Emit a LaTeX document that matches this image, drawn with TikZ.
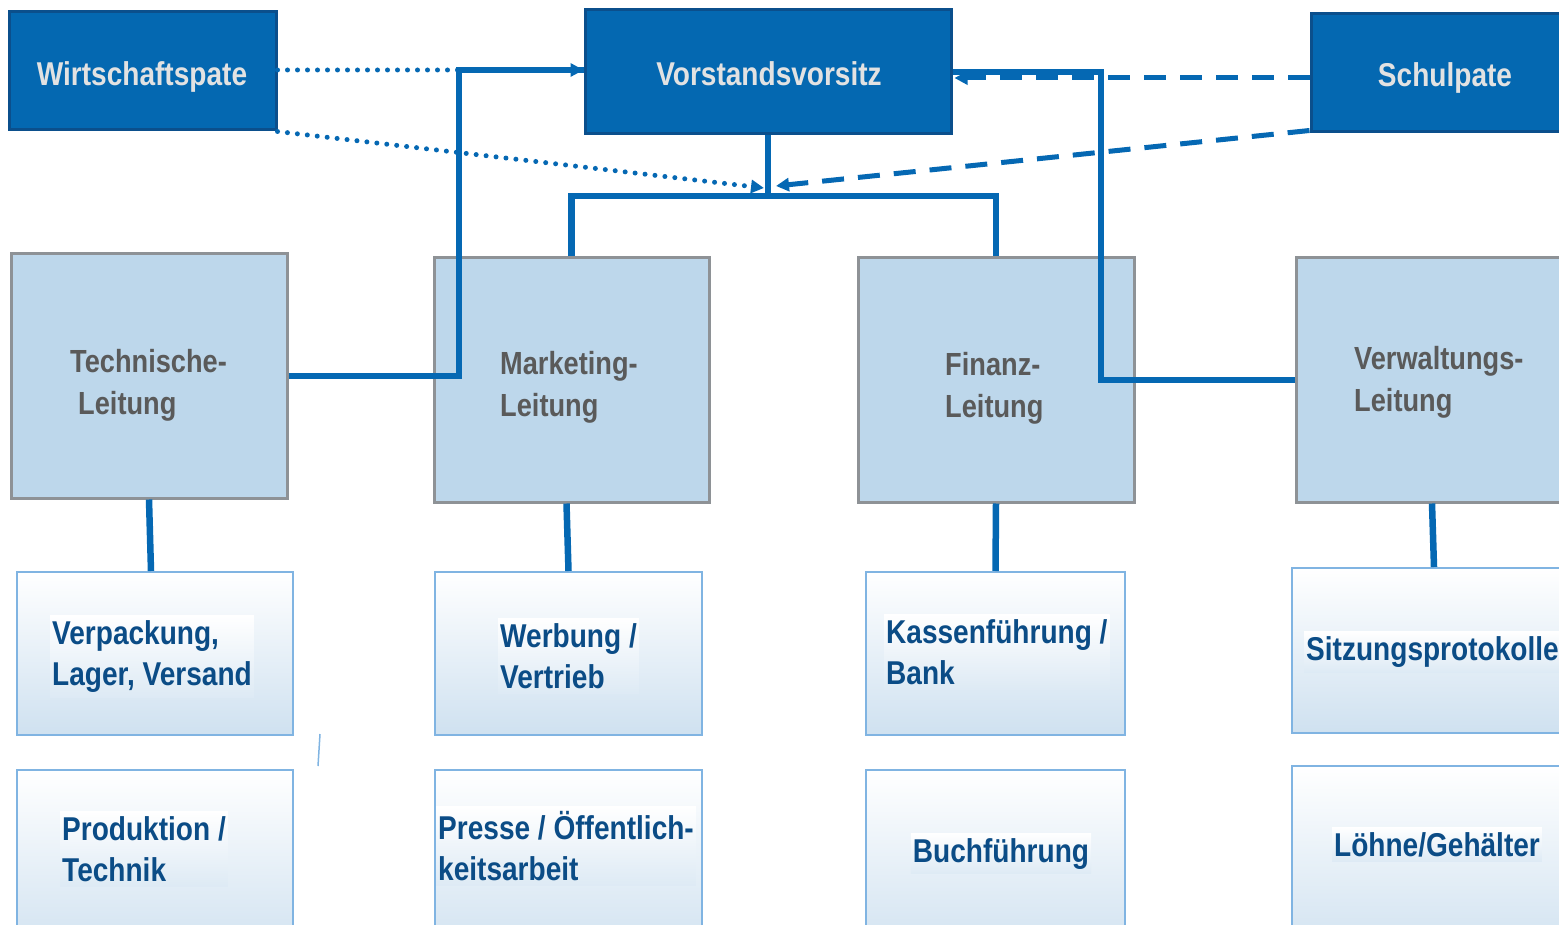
\documentclass[tikz,border=0pt]{standalone}
\usepackage{fontspec}
\setmainfont{Liberation Sans}[FakeStretch=0.85]
\usetikzlibrary{arrows.meta}
\definecolor{dblue}{HTML}{0468B1}
\definecolor{dborder}{HTML}{0B4F8C}
\definecolor{lnblue}{HTML}{0568B3}
\definecolor{lfill}{HTML}{BDD7EB}
\definecolor{lborder}{HTML}{8E9296}
\definecolor{gtext}{HTML}{5A5A5A}
\definecolor{ttext}{HTML}{E2E2E2}
\definecolor{btext}{HTML}{0B4C86}
\definecolor{sborder}{HTML}{80B4E2}
\definecolor{sbot}{HTML}{CFE1F0}
\begin{document}
\begin{tikzpicture}[x=1pt,y=-1pt,
  topbox/.style={draw=dborder,line width=3pt,fill=dblue,rectangle,inner sep=0pt},
  midbox/.style={draw=lborder,line width=3pt,fill=lfill,rectangle,inner sep=0pt},
  subbox/.style={draw=sborder,line width=2pt,top color=white,bottom color=sbot,rectangle,inner sep=0pt},
  toptext/.style={inner sep=0pt,text=ttext,font=\fontsize{33}{40}\selectfont\bfseries},
  midtext/.style={inner sep=0pt,text=gtext,align=left,anchor=north west,font=\fontsize{32}{42}\selectfont\bfseries},
  subtext/.style={inner xsep=2pt,inner ysep=5pt,text=btext,align=left,top color=white,bottom color=sbot!70!white,font=\fontsize{33}{41}\selectfont\bfseries},
  conn/.style={draw=lnblue,line width=6.5pt},
  dotline/.style={draw=lnblue,line width=5pt,line cap=round,dash pattern=on 0pt off 10pt},
  dashline/.style={draw=lnblue,line width=5pt,dash pattern=on 22pt off 14pt},
  tip/.style={-{Triangle[length=13pt,width=13pt]}}
]
\useasboundingbox (0,0) rectangle (1559,925);
\clip (0,0) rectangle (1559,925);

% top row
\node[topbox,minimum width=267pt,minimum height=118pt] (wp) at (142.5,71) {};
\node[topbox,minimum width=366pt,minimum height=124pt] (vv) at (768,72) {};
\node[topbox,minimum width=269pt,minimum height=118pt] (sp) at (1445.5,73) {};
\node[toptext,anchor=base] (wpt) at (142,86) {Wirtschaftspate};
\node[toptext,anchor=base] (vvt) at (769,86) {Vorstandsvorsitz};
\node[toptext,anchor=base] (spt) at (1445,87) {Schulpate};

% middle row
\node[midbox,minimum width=276pt,minimum height=244pt] (tl) at (149,376) {};
\node[midbox,minimum width=275pt,minimum height=244pt] (ml) at (571.5,380) {};
\node[midbox,minimum width=276pt,minimum height=244pt] (fl) at (996,380) {};
\node[midbox,minimum width=284pt,minimum height=244pt] (vl) at (1438,380) {};
\node[midtext] (tlt) at (70,349) {Technische-\\\hspace*{8pt}Leitung};
\node[midtext] (mlt) at (500,351) {Marketing-\\Leitung};
\node[midtext] (flt) at (945,352) {Finanz-\\Leitung};
\node[midtext] (vlt) at (1354,346) {Verwaltungs-\\Leitung};

% lower rows
\node[subbox,minimum width=276pt,minimum height=163pt] (s11) at (155,653.5) {};
\node[subbox,minimum width=267pt,minimum height=163pt] (s21) at (568.5,653.5) {};
\node[subbox,minimum width=259pt,minimum height=163pt] (s31) at (995.5,653.5) {};
\node[subbox,minimum width=288pt,minimum height=165pt] (s41) at (1436,650.5) {};
\node[subbox,minimum width=276pt,minimum height=190pt] (s12) at (155,865) {};
\node[subbox,minimum width=267pt,minimum height=190pt] (s22) at (568.5,865) {};
\node[subbox,minimum width=259pt,minimum height=190pt] (s32) at (995.5,865) {};
\node[subbox,minimum width=288pt,minimum height=194pt] (s42) at (1436,863) {};

\node[subtext,anchor=north west] (s11t) at (50,615) {Verpackung,\\Lager, Versand};
\node[subtext,anchor=north west] (s21t) at (498,618) {Werbung /\\Vertrieb};
\node[subtext,anchor=north west] (s31t) at (884,614) {Kassenführung /\\Bank};
\node[subtext,anchor=north west] (s41t) at (1304,631) {Sitzungsprotokolle};
\node[subtext,anchor=north west] (s12t) at (60,811) {Produktion /\\Technik};
\node[subtext,anchor=north west] (s22t) at (436,806) {Presse / Öffentlich-\\keitsarbeit};
\node[subtext,anchor=base] (s32t) at (1001,862) {Buchführung};
\node[subtext,anchor=base] (s42t) at (1437,856) {Löhne/Gehälter};

% connectors
\coordinate (j) at (768,196);
\draw[conn] (vv.south) -- (j);
\draw[conn] (ml.north) |- (j) -| (fl.north);
\draw[conn] (tl.east) -| (459,70) -- (vv.west |- 0,70);
\draw[conn] (vl.west) -| (1101,72) -- (vv.east);

\coordinate (dotend) at (764,188);
\coordinate (dashend) at (776,186);
\draw[dotline,tip] (wp.east |- 0,70) -- (vv.west |- 0,70);
\draw[dotline,tip] (wp.south east) -- (dotend);
\draw[dashline,tip] (sp.west |- 0,78) -- ([xshift=2pt]vv.east |- 0,78);
\draw[dashline,tip] ([yshift=3pt]sp.south west) -- (dashend);

\draw[conn] (tl.south) -- ([xshift=-4pt]s11.north);
\draw[conn] ([xshift=-5pt]ml.south) -- (s21.north);
\draw[conn] (fl.south) -- (s31.north);
\draw[conn] ([xshift=-6pt]vl.south) -- ([xshift=-2pt]s41.north);

\coordinate (st1) at (320,734);
\coordinate (st2) at (318,766);
\draw[sborder,line width=1.5pt] (st1) -- (st2);
\end{tikzpicture}
\end{document}
